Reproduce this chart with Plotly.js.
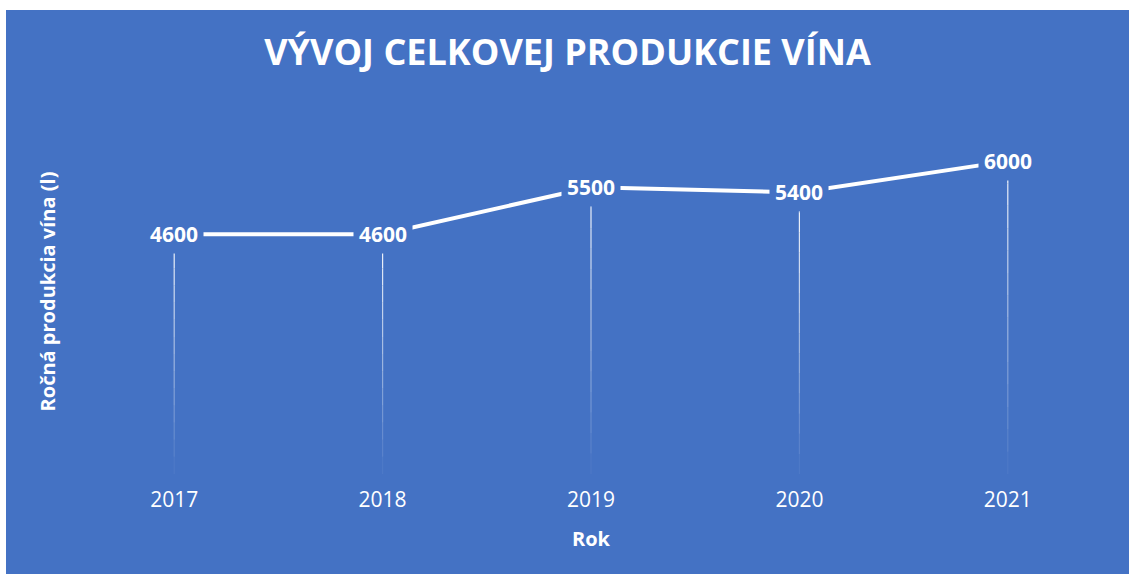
<!DOCTYPE html>
<html>
<head>
<meta charset="utf-8">
<script src="https://cdn.plot.ly/plotly-3.0.1.min.js"></script>
<style>
html,body{margin:0;padding:0;background:#ffffff;}
#chart{position:absolute;left:6px;top:10px;width:1123px;height:564px;}
</style>
</head>
<body>
<div id="chart"></div>
<script>
var years = ["2017", "2018", "2019", "2020", "2021"];
var production = [4600, 4600, 5500, 5400, 6000];
var chartTitle = "VÝVOJ CELKOVEJ PRODUKCIE VÍNA";
var xTitle = "Rok";
var yTitle = "Ročná produkcia vína (l)";

(function () {
  var BLUE = "#4472C4";
  var FONT = "Open Sans, Noto Sans, sans-serif";

  var shapes = [];
  var nSeg = 14;
  for (var i = 0; i < years.length; i++) {
    for (var s = 0; s < nSeg; s++) {
      var segTop = production[i] * (1 - s / nSeg);
      var segBot = production[i] * (1 - (s + 1) / nSeg);
      shapes.push({
        type: "line", xref: "x", yref: "y", layer: "below",
        x0: i, x1: i, y0: segTop, y1: segBot,
        line: {color: "rgba(255,255,255," + (0.95 - 0.9 * s / (nSeg - 1)).toFixed(3) + ")", width: 1.2}
      });
    }
  }

  var annotations = years.map(function (y, i) {
    return {
      x: i, y: production[i], xref: "x", yref: "y",
      text: "<b>" + production[i] + "</b>",
      showarrow: false, xanchor: "center", yanchor: "middle",
      bgcolor: BLUE, borderpad: 5,
      font: {family: FONT, size: 21, color: "#ffffff"}
    };
  });

  var trace = {
    type: "scatter", mode: "lines",
    x: years.map(function (y, i) { return i; }), y: production,
    line: {color: "#ffffff", width: 4},
    hoverinfo: "skip"
  };

  var layout = {
    width: 1123, height: 564,
    paper_bgcolor: BLUE, plot_bgcolor: BLUE,
    margin: {l: 64, r: 17, t: 99, b: 100, pad: 0},
    showlegend: false,
    title: {
      text: "<b>" + chartTitle + "</b>",
      font: {family: FONT, size: 36, color: "#ffffff"},
      x: 0.5, xanchor: "center", xref: "container",
      y: 1 - 42 / 564, yanchor: "middle", yref: "container"
    },
    xaxis: {
      range: [-0.5, 4.5],
      tickmode: "array", tickvals: years.map(function (y, i) { return i; }), ticktext: years,
      showgrid: false, zeroline: false, showline: false, ticks: "",
      tickfont: {family: FONT, size: 21, color: "#ffffff"},
      ticklabelstandoff: 11,
      automargin: false,
      title: {text: "<b>" + xTitle + "</b>", font: {family: FONT, size: 20, color: "#ffffff"}, standoff: 19}
    },
    yaxis: {
      range: [0, 7000],
      showgrid: false, zeroline: false, showline: false, ticks: "",
      showticklabels: false, automargin: false,
      title: {text: "<b>" + yTitle + "</b>", font: {family: FONT, size: 20, color: "#ffffff"}, standoff: 8}
    },
    shapes: shapes,
    annotations: annotations
  };

  Plotly.newPlot("chart", [trace], layout, {displayModeBar: false, staticPlot: true});
})();
</script>
</body>
</html>
